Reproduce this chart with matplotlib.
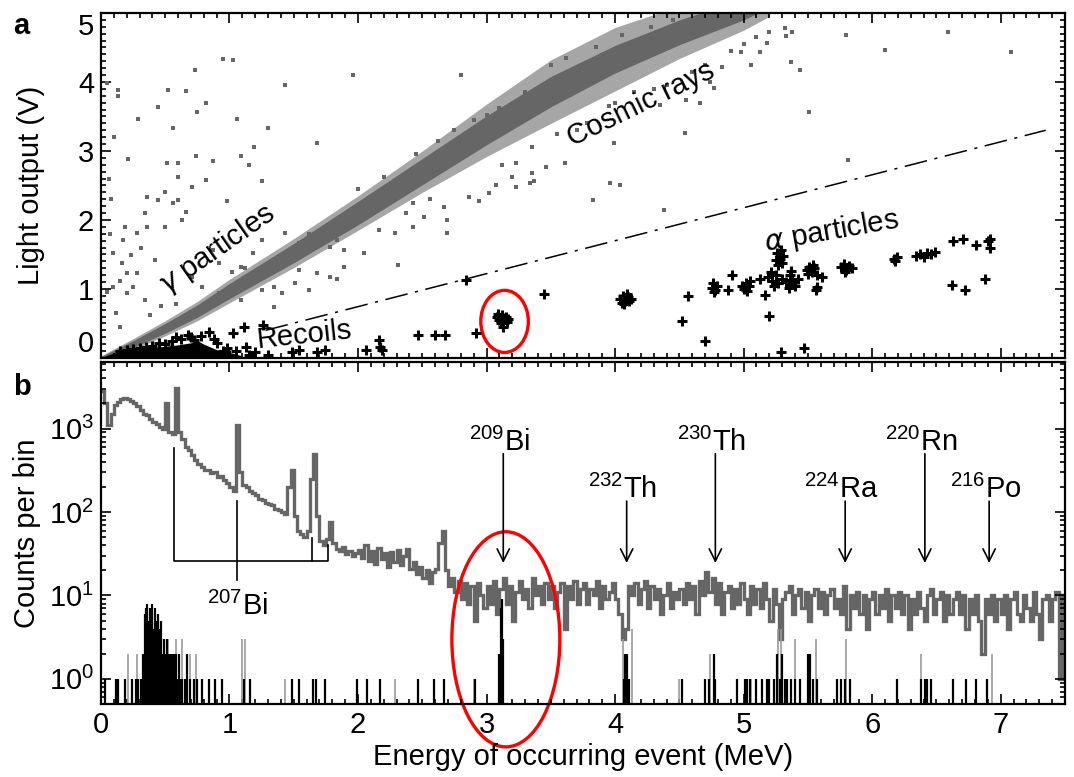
import numpy as np
import matplotlib
matplotlib.use("Agg")
import matplotlib.pyplot as plt
from matplotlib.patches import Ellipse
from matplotlib.ticker import MultipleLocator, LogLocator, NullFormatter

plt.rcParams['font.family'] = ['Liberation Sans', 'DejaVu Sans']
plt.rcParams['mathtext.fontset'] = 'custom'
plt.rcParams['mathtext.rm'] = 'Liberation Sans'

GRAY = '#666666'
FS = 21

# ---- panel a: gamma / cosmic band (centre line and half widths, MeV / V)
band_e = [0.0, 0.25, 0.5, 0.75, 1.0, 1.5, 2.0, 2.5, 3.0, 3.5, 4.0, 4.5, 5.0, 5.2]
band_v = [0.0, 0.2, 0.43, 0.68, 0.97, 1.52, 2.1, 2.7, 3.3, 3.86, 4.33, 4.72, 5.05, 5.2]
band_hw = [0.02, 0.05, 0.07, 0.09, 0.11, 0.14, 0.17, 0.19, 0.21, 0.22, 0.2, 0.18, 0.15, 0.12]
halo_hw = [0.03, 0.08, 0.11, 0.14, 0.17, 0.21, 0.25, 0.3, 0.38, 0.46, 0.46, 0.38, 0.3, 0.25]

# scattered gray events
dots_e = [0.95, 1.03, 0.73, 0.52, 0.66, 1.43, 1.96, 2.80, 0.13, 0.13, 0.44, 0.82, 0.56,
          0.75, 1.06, 0.29, 1.30, 1.68, 0.51, 0.60, 0.74, 0.87, 1.15, 0.21, 0.60, 1.25,
          0.50, 0.36, 0.44, 0.98, 0.56, 0.66, 0.34, 0.19, 0.50, 0.63, 0.31, 0.23, 0.16,
          0.42, 0.28, 0.15, 0.20, 0.34, 0.12, 0.15, 2.31, 2.69, 1.84, 1.89, 1.78, 1.62,
          1.54, 1.41, 1.35, 2.05, 2.16, 2.37, 2.43, 2.56, 2.86, 2.94, 3.07, 3.23, 3.34,
          3.23, 3.12, 3.35, 3.20, 0.87, 0.92, 1.09, 1.18, 1.25, 1.43, 1.54, 1.78, 1.89,
          0.71, 0.79, 0.92, 1.09, 1.25, 1.35, 1.51, 1.68, 1.84, 2.29, 2.43, 2.51, 2.67,
          2.69, 3.02, 3.35, 0.28, 0.36, 0.20, 0.25, 0.09, 0.09, 0.17, 0.60, 0.71, 0.82,
          1.09, 1.19, 0.05, 0.06, 0.07, 0.05, 0.08, 0.10, 0.38, 0.47, 0.58, 1.02, 1.12,
          1.62, 1.72, 2.0, 2.2, 2.45, 2.62, 2.75, 2.9, 3.0, 3.1, 3.3,
          5.38, 5.32, 5.33, 5.80, 6.59, 7.08, 6.10, 5.37, 5.44, 5.13, 5.06, 4.98, 5.18,
          5.51, 4.54, 5.81, 4.66, 4.55, 4.35, 3.99, 3.96, 4.04, 3.83, 3.61, 3.46, 4.38,
          3.37, 4.74, 4.77, 4.83, 3.5, 3.62, 3.7, 3.85, 3.95, 4.05, 4.15, 4.28, 4.4,
          3.55, 3.78, 4.0, 4.3, 4.45, 4.6, 4.7, 4.9, 5.0, 5.1, 5.2]
dots_v = [4.34, 4.32, 4.18, 3.89, 3.87, 3.96, 4.10, 4.10, 3.89, 3.79, 3.64, 3.69, 3.33,
          3.57, 3.47, 3.47, 3.33, 3.11, 2.82, 2.82, 2.92, 2.85, 2.80, 2.89, 2.63, 2.56,
          2.41, 2.34, 2.29, 2.27, 2.24, 2.12, 2.10, 1.90, 1.90, 2.00, 1.59, 1.49, 1.37,
          1.42, 1.23, 1.11, 0.94, 0.84, 0.65, 0.45, 1.35, 2.00, 1.71, 1.32, 1.18, 0.99,
          1.28, 0.94, 0.74, 1.52, 1.86, 2.10, 2.24, 2.31, 2.34, 2.27, 2.51, 2.48, 2.53,
          2.82, 2.80, 3.06, 2.63, 1.57, 1.37, 1.32, 1.52, 1.71, 1.81, 1.66, 1.61, 1.57,
          1.18, 1.03, 0.94, 0.84, 0.99, 1.03, 1.08, 1.23, 1.15, 1.81, 1.90, 2.05, 2.19,
          1.81, 2.39, 2.68, 1.81, 1.90, 1.23, 1.03, 1.03, 1.52, 1.71, 2.29, 2.48, 2.58,
          2.92, 3.06, 3.98, 2.60, 1.80, 0.95, 2.30, 3.20, 0.62, 0.75, 0.78, 1.25, 1.30,
          1.80, 1.87, 2.45, 2.62, 2.95, 3.15, 3.30, 3.45, 3.52, 3.62, 3.85,
          4.73, 4.78, 4.66, 4.68, 4.73, 4.44, 4.46, 4.29, 4.17, 4.44, 4.25, 4.44, 4.56,
          3.56, 3.26, 2.87, 3.69, 3.74, 3.67, 3.11, 2.53, 2.51, 2.29, 2.82, 2.77, 2.14,
          2.56, 4.00, 3.91, 4.22, 4.25, 4.35, 3.30, 4.50, 3.65, 4.68, 3.85, 4.80, 3.95,
          3.25, 3.40, 3.70, 3.90, 4.90, 4.15, 4.25, 4.45, 4.55, 4.65, 4.72]

# recoil band near the origin (top edge of the dense black region)
recoil_e = [0.0, 0.05, 0.1, 0.2, 0.3, 0.4, 0.5, 0.6, 0.7, 0.75, 0.8, 0.85, 0.9, 1.0, 1.1]
recoil_top = [0.0, 0.04, 0.07, 0.1, 0.12, 0.15, 0.17, 0.19, 0.22, 0.25, 0.2, 0.16, 0.12, 0.08, 0.03]

# alpha / recoil events (crosses)
alpha_e = [3.08, 3.10, 3.12, 3.14, 3.16, 3.11, 3.13, 3.15, 3.09, 3.17,
           4.04, 4.06, 4.08, 4.10, 4.07, 4.11, 4.05, 4.09, 4.12,
           4.75, 4.77, 4.79, 4.76, 4.78, 4.91, 4.88,
           5.00, 5.02, 5.04, 5.03, 5.05, 4.99,
           5.13, 5.17, 5.20, 5.29, 5.47, 4.57, 4.52, 4.70, 3.45,
           5.26, 5.28, 5.30, 5.27, 5.31, 5.29, 5.25,
           5.19, 5.22, 5.25, 5.27, 5.30, 5.33, 5.36, 5.38, 5.40, 5.35, 5.24, 5.42, 5.21, 5.37,
           5.49, 5.51, 5.53, 5.55, 5.50, 5.54, 5.57, 5.57, 5.61, 5.56,
           5.76, 5.78, 5.80, 5.82, 5.79, 5.84,
           6.19, 6.18, 6.17, 6.34, 6.37, 6.40, 6.43, 6.46, 6.49,
           6.63, 6.71, 6.81, 6.92, 6.90, 6.92, 6.62, 6.72, 6.88,
           2.84, 2.92, 2.47, 2.60, 2.68, 2.16, 2.06, 2.19, 2.17, 1.49, 1.54, 1.68, 1.74,
           1.13, 1.11, 1.26, 1.03, 0.84, 0.70, 0.78, 0.90, 0.95, 1.00, 1.20,
           0.30, 0.40, 0.50, 0.55, 0.62, 0.45, 0.35, 0.25, 0.15, 0.68, 0.88, 0.98, 1.05,
           1.15, 1.30, 0.58, 0.72, 0.20]
alpha_v = [0.60, 0.55, 0.62, 0.58, 0.52, 0.50, 0.45, 0.60, 0.64, 0.57,
           0.86, 0.90, 0.82, 0.88, 0.78, 0.83, 0.80, 0.93, 0.86,
           1.02, 0.96, 1.05, 1.08, 0.99, 1.20, 0.99,
           1.00, 1.08, 1.05, 0.97, 1.12, 1.04,
           1.15, 0.91, 0.61, 0.08, 0.14, 0.90, 0.53, 0.25, 0.92,
           1.52, 1.44, 1.38, 1.35, 1.48, 1.56, 1.42,
           1.18, 1.12, 1.20, 1.08, 1.15, 1.10, 1.20, 1.13, 1.05, 1.02, 1.05, 1.15, 1.24, 1.26,
           1.28, 1.32, 1.25, 1.30, 1.22, 1.35, 1.20, 1.03, 1.18, 0.98,
           1.32, 1.36, 1.28, 1.33, 1.25, 1.30,
           1.47, 1.40, 1.44, 1.48, 1.50, 1.47, 1.52, 1.50, 1.54,
           1.69, 1.73, 1.64, 1.73, 1.70, 1.59, 1.06, 0.99, 1.14,
           1.13, 0.36, 0.34, 0.34, 0.33, 0.26, 0.11, 0.12, 0.16, 0.09, 0.12, 0.09, 0.12,
           0.16, 0.45, 0.48, 0.36, 0.38, 0.30, 0.32, 0.22, 0.10, 0.05, 0.08,
           0.15, 0.18, 0.20, 0.25, 0.28, 0.22, 0.16, 0.13, 0.10, 0.33, 0.27, 0.14, 0.10,
           0.05, 0.04, 0.30, 0.26, 0.12]

cut_e = [1.28, 7.35]
cut_v = [0.40, 3.30]

# ---- panel b: gray spectrum, 0.025 MeV bins
bin_width = 0.025
counts_low = [2800, 2000, 1100, 1500, 1900, 2100, 2250, 2300, 2250, 2150,
              2000, 1850, 1650, 1500, 1450, 1300, 1200, 1150, 1050, 1000,
              2000, 900, 850, 3100, 900, 750, 600, 550, 480, 420,
              380, 350, 320, 320, 290, 300, 260, 270, 240, 220,
              200, 180, 1100, 300, 210, 200, 180, 170, 160, 145,
              140, 130, 125, 120, 110, 105, 100, 95, 200, 320,
              90, 60, 55, 50, 60, 250, 500, 90, 45, 40,
              48, 75, 42, 36, 34, 38, 31, 34, 30, 32]
counts_mid = [35, 28, 40, 26, 34, 24, 37, 27, 32, 22,
              33, 25, 35, 23, 30, 36, 21, 25, 18, 22,
              16, 20, 14, 19, 21, 42, 60, 20, 13, 16,
              11, 15, 9, 14, 8, 13, 5, 14, 10, 7,
              13, 8, 15, 6, 12, 16, 8, 13, 5, 11,
              15, 9, 12, 7, 16, 10, 13, 8, 14, 9,
              13, 7, 11, 14, 4, 13, 9, 15, 8, 12,
              14, 8, 12, 10, 15, 7, 13, 9, 11, 14,
              9, 6, 3, 4, 13, 10, 14, 8, 12, 15,
              7, 13, 9, 12, 6, 10, 14, 7, 11, 9]
counts_high = [12, 8, 14, 9, 13, 6, 15, 10, 19, 11,
               16, 8, 14, 6, 11, 13, 7, 12, 8, 14,
               9, 6, 13, 8, 12, 7, 14, 9, 5, 12,
               8, 3, 9, 11, 13, 6, 10, 12, 7, 11,
               5, 10, 12, 7, 11, 6, 10, 12, 7, 9,
               6, 13, 4, 10, 7, 11, 6, 10, 4, 9,
               11, 6, 10, 7, 12, 5, 10, 7, 11, 6,
               10, 4, 9, 6, 11, 7, 5, 10, 12, 6,
               9, 11, 5, 10, 6, 9, 11, 6, 10, 4,
               9, 6, 10, 5, 2, 9, 6, 10, 5, 9,
               6, 10, 4, 9, 11, 6, 5, 10, 7, 5,
               11, 6, 3, 9, 10, 5, 9, 11, 1, 10]

# alpha-selected events (black) and lighter gray events
black_e = [0.03, 0.12, 0.13, 0.19, 0.24, 0.27, 0.29, 0.31,
           0.33, 0.34, 0.35, 0.36, 0.37, 0.38, 0.39, 0.40, 0.41, 0.42, 0.43, 0.44, 0.45,
           0.46, 0.47, 0.48, 0.49, 0.50, 0.51, 0.52, 0.53, 0.54, 0.55, 0.56, 0.57, 0.58,
           0.59, 0.60, 0.61, 0.62, 0.63, 0.65, 0.67, 0.69, 0.72, 0.75, 0.79, 0.84, 0.89,
           0.94, 1.11, 1.16, 1.49, 1.54, 1.65, 1.67, 1.74, 1.99, 2.07, 2.17, 2.47, 2.59,
           2.67, 2.91, 3.10, 3.11, 3.12, 3.13,
           4.07, 4.08, 4.09, 4.10, 4.11, 4.52, 4.70, 4.73, 4.77, 4.78, 4.95, 5.01, 5.03,
           5.05, 5.10, 5.14, 5.18, 5.20, 5.24, 5.26, 5.28, 5.30, 5.32, 5.34, 5.37, 5.40,
           5.44, 5.50, 5.52, 5.54, 5.57, 5.73, 5.76, 5.79, 5.83, 6.19, 6.38, 6.41, 6.43,
           6.46, 6.63, 6.73, 6.81, 6.89]
black_n = [1, 1, 1, 1, 1, 1, 1, 1,
           2, 6, 7, 8, 5, 7, 6, 8, 4, 7, 5, 6, 3,
           4, 5, 2, 3, 2, 3, 2, 1, 2, 2, 1, 2, 2,
           1, 1, 2, 1, 1, 1, 2, 1, 1, 1, 1, 1, 1,
           1, 1, 1, 1, 1, 1, 1, 1, 1, 1, 1, 1, 1,
           1, 1, 2, 7, 9, 3,
           1, 2, 2, 1, 1, 1, 1, 1, 2, 1, 1, 1, 1,
           1, 1, 1, 1, 1, 1, 2, 1, 2, 1, 1, 1, 1,
           1, 2, 2, 1, 1, 1, 1, 1, 1, 1, 1, 1, 1,
           1, 1, 1, 1, 1]
light_e = [0.21, 0.28, 0.52, 0.58, 0.63, 0.69, 0.74, 1.10, 1.12, 1.43, 2.29, 2.90,
           4.06, 4.13, 4.50, 4.74, 5.06, 5.27, 5.29, 5.40, 5.56, 5.80, 6.38, 6.93]
light_n = [2, 2, 3, 3, 3, 2, 2, 3, 3, 1, 1, 1,
           3, 4, 1, 2, 1, 4, 4, 3, 3, 3, 2, 2]

# isotope markers
iso_e = [3.13, 4.09, 4.78, 5.79, 6.41, 6.91]
iso_label = [r'$^{209}$Bi', r'$^{232}$Th', r'$^{230}$Th', r'$^{224}$Ra', r'$^{220}$Rn', r'$^{216}$Po']
iso_long = [True, False, True, False, True, False]

fig = plt.figure(figsize=(10.74, 7.77), dpi=100)
ax_a = fig.add_axes([0.0940, 0.5393, 0.8976, 0.4440])
ax_b = fig.add_axes([0.0940, 0.0940, 0.8976, 0.4402])

# ---------------- panel a
lo = np.array(band_v) - np.array(band_hw)
hi = np.array(band_v) + np.array(band_hw)
hlo = np.array(band_v) - np.array(halo_hw)
hhi = np.array(band_v) + np.array(halo_hw)
ax_a.fill_between(band_e, hlo, hhi, color='#a6a6a6', linewidth=0)
ax_a.fill_between(band_e, lo, hi, color=GRAY, linewidth=0)
ax_a.plot(dots_e, dots_v, 's', color=GRAY, ms=2.2, mew=0)
ax_a.fill_between(recoil_e, 0, recoil_top, color='black', linewidth=0)
ax_a.plot(alpha_e, alpha_v, '+', color='black', ms=7, mew=2.2)
ax_a.plot(cut_e, cut_v, color='black', lw=1.1, linestyle=(0, (15, 5, 2, 5)))

ax_a.add_patch(Ellipse((3.14, 0.53), 0.37, 0.9, fill=False, edgecolor='red', lw=2.4))

ax_a.text(0.9, 1.57, r'$\gamma$ particles', fontsize=FS, rotation=35, ha='center', va='center')
ax_a.text(4.2, 3.68, 'Cosmic rays', fontsize=FS, rotation=26, ha='center', va='center')
ax_a.text(5.68, 1.84, r'$\alpha$ particles', fontsize=FS, rotation=10, ha='center', va='center')
ax_a.text(1.58, 0.33, 'Recoils', fontsize=FS, rotation=6, ha='center', va='center')

ax_a.set_xlim(0, 7.5)
ax_a.set_ylim(0, 5)
ax_a.set_yticks([0, 1, 2, 3, 4, 5])
ax_a.xaxis.set_major_locator(MultipleLocator(1))
ax_a.xaxis.set_minor_locator(MultipleLocator(0.1))
ax_a.yaxis.set_minor_locator(MultipleLocator(0.1))
ax_a.tick_params(labelbottom=False)
ax_a.set_ylabel('Light output (V)', fontsize=FS)
ax_a.yaxis.set_label_coords(-0.058, 0.5)
labs = ax_a.get_yticklabels()
labs[0].set_va('bottom')
labs[-1].set_va('top')

# ---------------- panel b
counts = counts_low + counts_mid + counts_high
edges = np.arange(len(counts) + 1) * bin_width
ax_b.vlines(light_e, 0.5, light_n, color='#9a9a9a', lw=1.2)
ax_b.vlines(black_e, 0.5, black_n, color='black', lw=1.6)
ax_b.stairs(counts, edges, color=GRAY, lw=2.4, baseline=None)

# 207Bi bracket
ax_b.plot([0.57, 0.57, 1.77, 1.77], [590, 25.7, 25.7, 40], color='black', lw=1.2)
ax_b.plot([1.06, 1.06], [135, 15.5], color='black', lw=1.2)
ax_b.plot([1.64, 1.64], [25.7, 49], color='black', lw=1.2)
ax_b.text(1.06, 5.8, r'$^{207}$Bi', fontsize=FS, ha='center', va='baseline')

for e, lab, long in zip(iso_e, iso_label, iso_long):
    top = 500 if long else 135
    ax_b.annotate('', xy=(e, 24.5), xytext=(e, top),
                  arrowprops=dict(arrowstyle='->', lw=1.2, color='black',
                                  shrinkA=0, shrinkB=0, mutation_scale=22))
    ax_b.text(e - 0.03, 545 if long else 148, lab, fontsize=FS, ha='center', va='baseline')

ax_b.add_patch(Ellipse((0.42, 0.189), 0.112, 0.629, transform=ax_b.transAxes,
                       fill=False, edgecolor='red', lw=2.4, clip_on=False))

ax_b.set_yscale('log')
ax_b.set_xlim(0, 7.5)
ax_b.set_ylim(0.5, 6300)
ax_b.yaxis.set_major_locator(LogLocator(base=10, numticks=10))
ax_b.yaxis.set_minor_locator(LogLocator(base=10, subs=np.arange(2, 10), numticks=10))
ax_b.yaxis.set_minor_formatter(NullFormatter())
ax_b.xaxis.set_major_locator(MultipleLocator(1))
ax_b.xaxis.set_minor_locator(MultipleLocator(0.1))
ax_b.set_ylabel('Counts per bin', fontsize=FS)
ax_b.yaxis.set_label_coords(-0.062, 0.5)
ax_b.set_xlabel('Energy of occurring event (MeV)', fontsize=FS, labelpad=3)

for ax in (ax_a, ax_b):
    for s in ax.spines.values():
        s.set_linewidth(1.6)
    ax.tick_params(which='both', direction='in', top=True, right=True, width=1.2, labelsize=FS)
    ax.tick_params(which='major', length=7, pad=5)
    ax.tick_params(which='minor', length=3.5)

fig.text(0.012, 0.985, 'a', fontsize=FS, fontweight='bold', va='top')
fig.text(0.012, 0.520, 'b', fontsize=FS, fontweight='bold', va='top')

fig.savefig('out.png', dpi=100)
